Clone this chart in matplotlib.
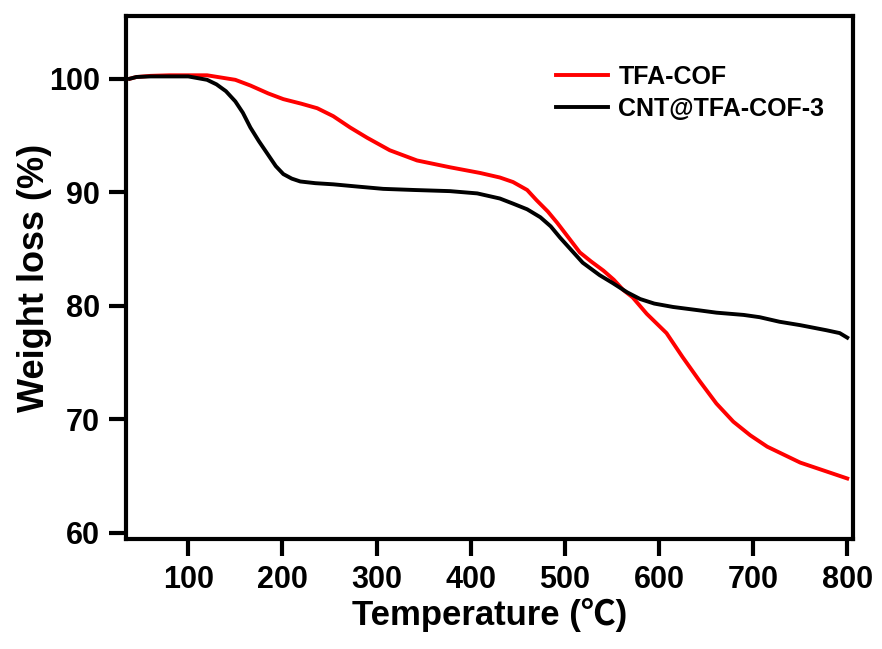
import matplotlib
matplotlib.use("Agg")
import matplotlib.pyplot as plt

plt.rcParams['font.family'] = ['Liberation Sans', 'Noto Sans CJK SC', 'DejaVu Sans']
plt.rcParams['font.weight'] = 'bold'

# TGA curves
temp_tfa = [38, 45, 60, 80, 100, 120, 135, 150, 166, 185, 201, 220, 237, 254, 272,
            290, 314, 343, 378, 410, 431, 445, 460, 470, 482, 492, 504, 516, 528,
            541, 552, 562, 572, 587, 608, 625, 643, 661, 679, 697, 715, 730, 750,
            775, 800]
wt_tfa = [100.0, 100.15, 100.25, 100.3, 100.3, 100.3, 100.1, 99.9, 99.4, 98.7, 98.2,
          97.8, 97.4, 96.7, 95.7, 94.8, 93.7, 92.8, 92.2, 91.7, 91.3, 90.9, 90.2,
          89.3, 88.3, 87.3, 86.0, 84.7, 83.9, 83.1, 82.3, 81.4, 80.75, 79.3, 77.6,
          75.5, 73.4, 71.4, 69.8, 68.6, 67.6, 67.0, 66.2, 65.5, 64.8]

temp_cnt = [38, 45, 60, 80, 100, 120, 130, 140, 150, 158, 166, 175, 184, 193, 201,
            210, 219, 235, 254, 280, 307, 340, 378, 407, 431, 445, 460, 474, 485,
            495, 507, 519, 537, 551, 566, 580, 595, 615, 643, 661, 690, 707, 728,
            750, 778, 792, 800]
wt_cnt = [100.0, 100.15, 100.2, 100.2, 100.2, 99.9, 99.5, 98.9, 98.0, 97.0, 95.7,
          94.5, 93.4, 92.3, 91.6, 91.2, 90.95, 90.8, 90.7, 90.5, 90.3, 90.2, 90.1,
          89.9, 89.45, 89.0, 88.5, 87.8, 87.0, 86.0, 84.9, 83.8, 82.7, 82.0, 81.2,
          80.6, 80.2, 79.9, 79.6, 79.4, 79.2, 79.0, 78.6, 78.3, 77.85, 77.6, 77.2]

fig = plt.figure(figsize=(8.82, 6.49), dpi=100)
ax = fig.add_axes([0.143, 0.17, 0.824, 0.805])

ax.plot(temp_tfa, wt_tfa, color='#ff0000', lw=2.8, label='TFA-COF')
ax.plot(temp_cnt, wt_cnt, color='black', lw=2.8, label='CNT@TFA-COF-3')

ax.set_xlim(34, 806)
ax.set_ylim(59.5, 105.5)
ax.set_xticks([100, 200, 300, 400, 500, 600, 700, 800])
ax.set_yticks([60, 70, 80, 90, 100])

for s in ax.spines.values():
    s.set_linewidth(3)
ax.tick_params(direction='out', length=12, width=3, labelsize=22, pad=7)
for lab in ax.get_xticklabels() + ax.get_yticklabels():
    lab.set_fontweight('bold')

ax.set_xlabel('Temperature (℃)', fontsize=25, fontweight='bold', labelpad=2)
ax.set_ylabel('Weight loss (%)', fontsize=26, fontweight='bold')
ax.yaxis.set_label_coords(-0.102, 0.5)

leg = ax.legend(loc='upper left', bbox_to_anchor=(0.619, 0.915),
                bbox_transform=fig.transFigure, borderaxespad=0, frameon=False,
                handlelength=2.1, handletextpad=0.4, labelspacing=0.32,
                prop={'weight': 'bold', 'size': 18})

fig.savefig('out.png', dpi=100)
